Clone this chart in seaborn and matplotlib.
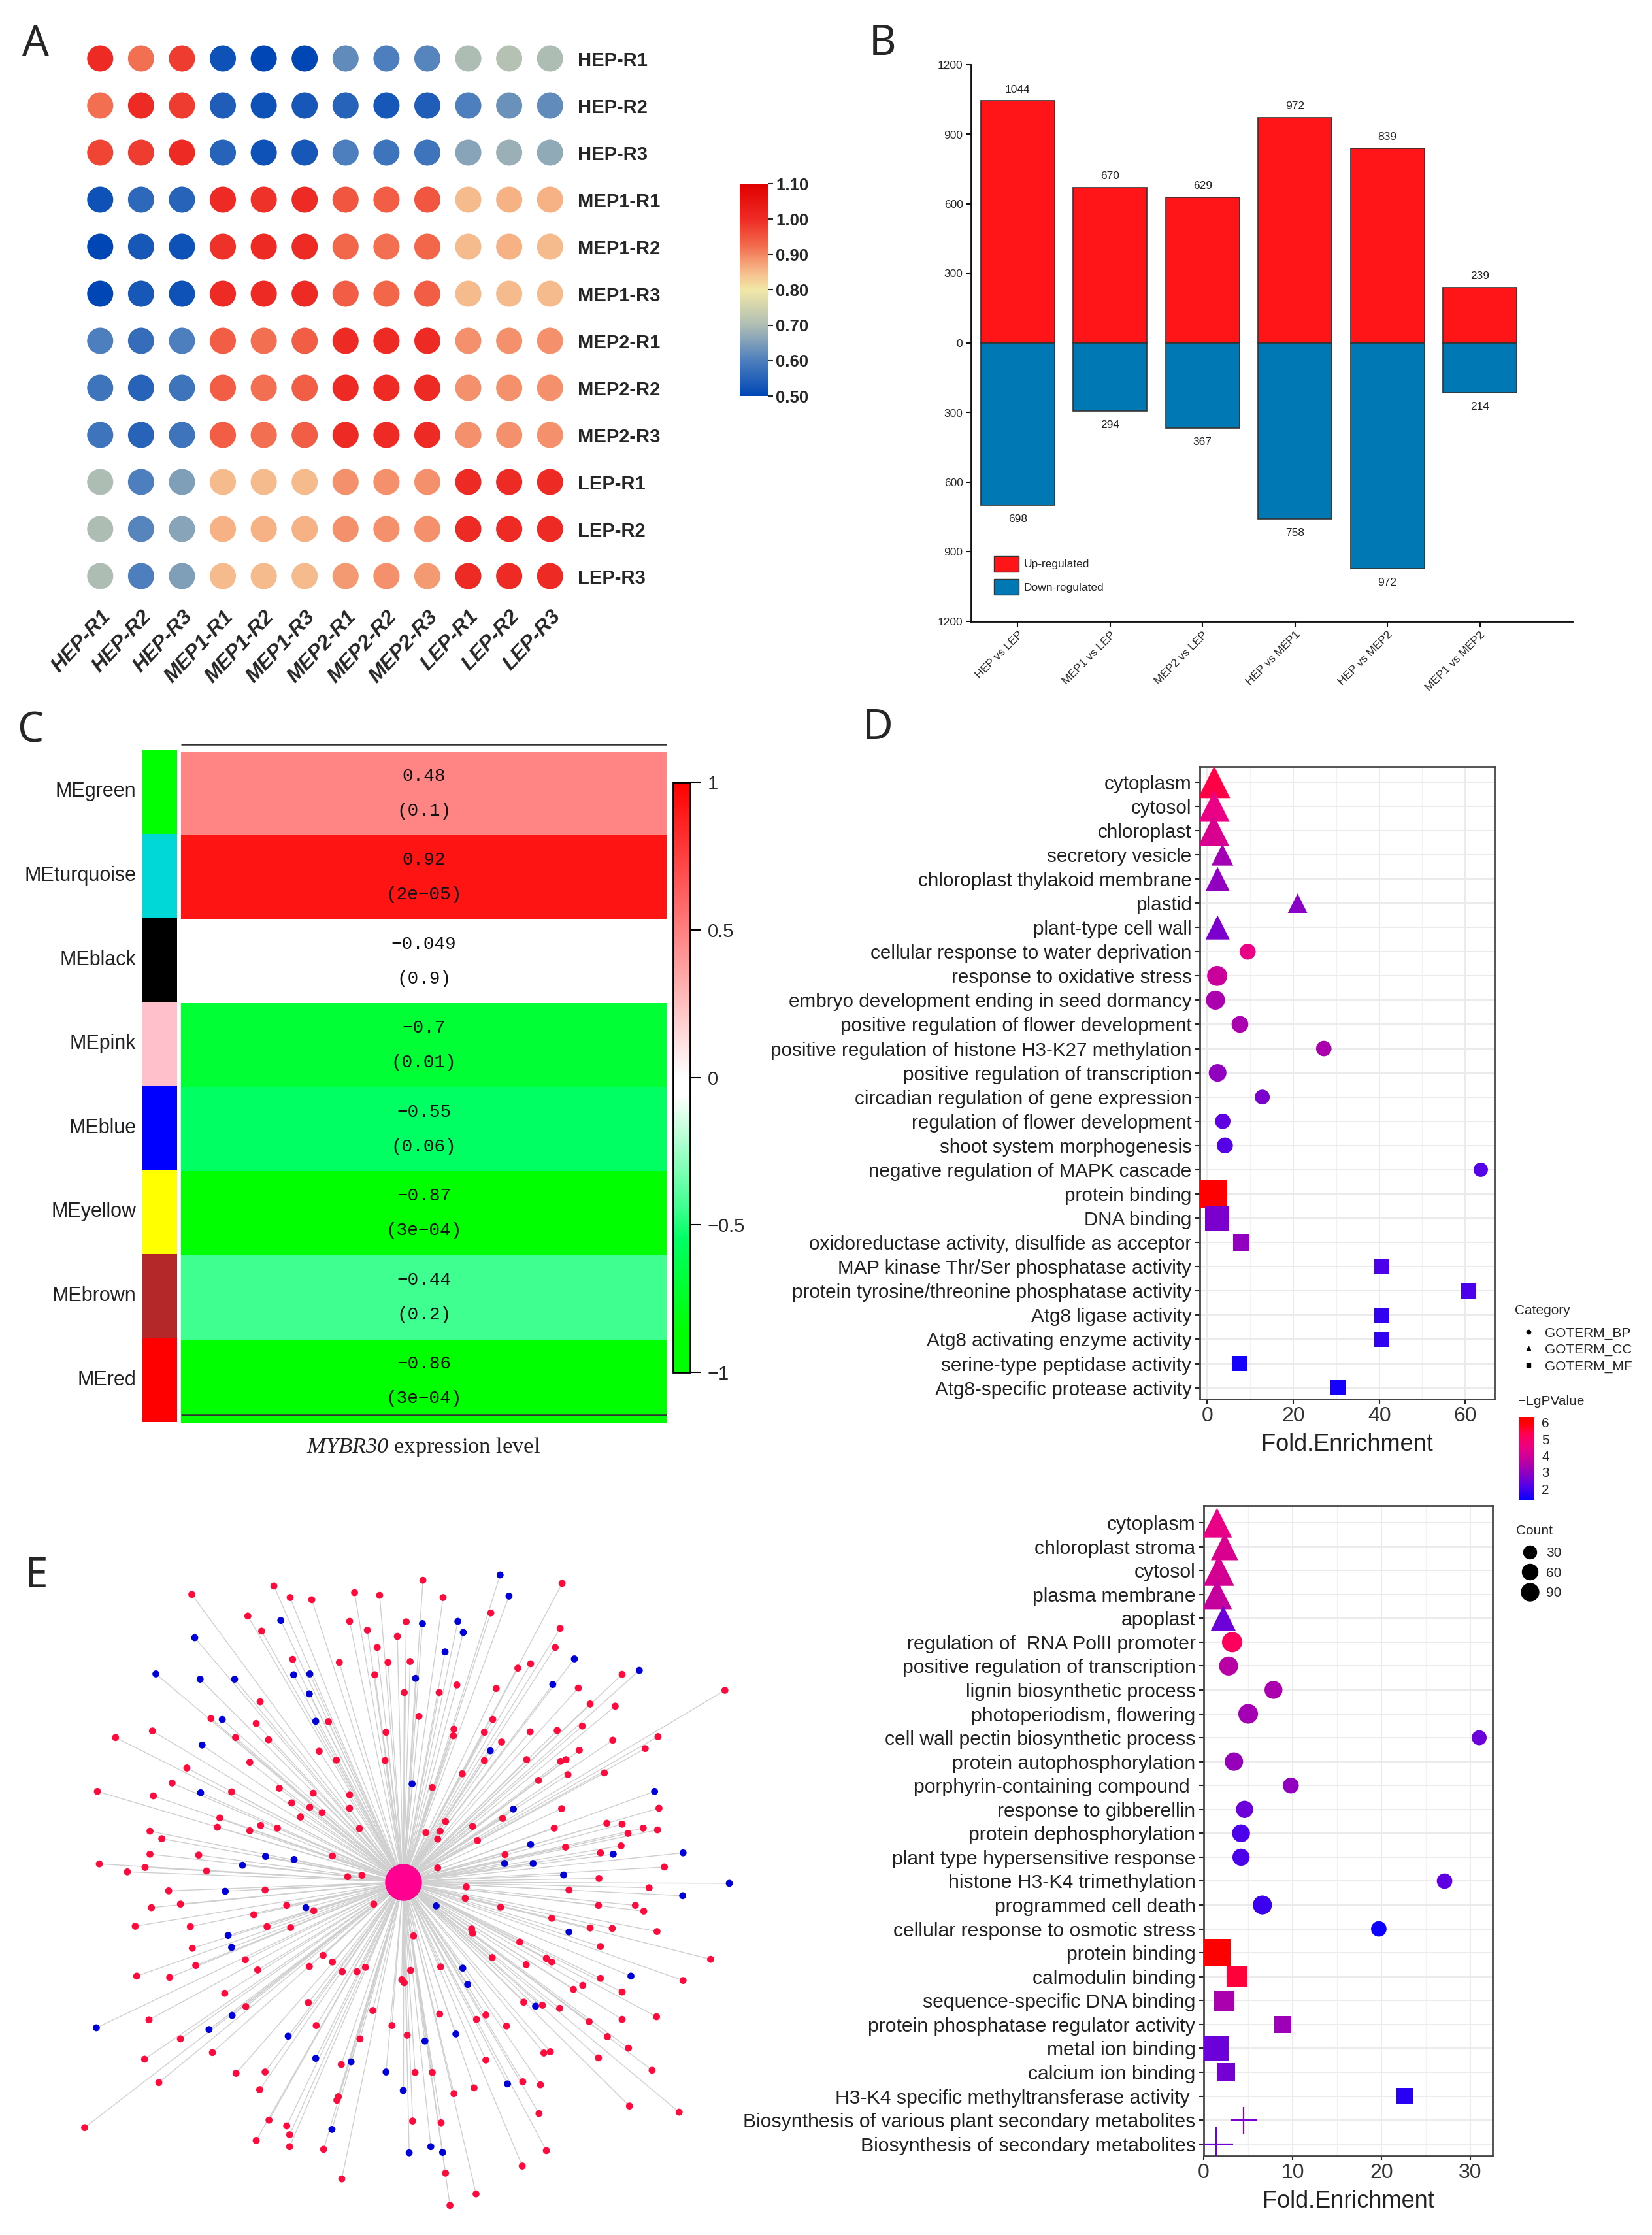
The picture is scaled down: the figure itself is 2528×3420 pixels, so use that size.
import numpy as np
import pandas as pd
import matplotlib
matplotlib.use('Agg')
import matplotlib.pyplot as plt
from matplotlib.colors import LinearSegmentedColormap, ListedColormap, Normalize
from matplotlib.cm import ScalarMappable
from matplotlib.lines import Line2D
from matplotlib.patches import Patch
import seaborn as sns

W, H = 2528, 3420

# ---------- panel A
samples = ['HEP-R1', 'HEP-R2', 'HEP-R3', 'MEP1-R1', 'MEP1-R2', 'MEP1-R3',
           'MEP2-R1', 'MEP2-R2', 'MEP2-R3', 'LEP-R1', 'LEP-R2', 'LEP-R3']
corr_matrix = [
    [1.00, .92, .98, .52, .50, .50, .62, .60, .61, .70, .71, .70],
    [.92, 1.00, .98, .54, .52, .53, .55, .53, .54, .60, .63, .62],
    [.97, .98, 1.00, .55, .52, .53, .60, .58, .58, .66, .68, .67],
    [.52, .56, .55, 1.00, .99, 1.00, .95, .94, .95, .85, .86, .86],
    [.50, .53, .52, .99, 1.00, 1.00, .93, .92, .93, .85, .86, .85],
    [.50, .53, .52, 1.00, 1.00, 1.00, .94, .93, .94, .85, .85, .85],
    [.60, .57, .60, .94, .92, .94, 1.00, 1.00, 1.00, .89, .89, .89],
    [.58, .55, .58, .94, .92, .94, 1.00, 1.00, 1.00, .89, .89, .89],
    [.58, .55, .58, .94, .92, .94, 1.00, 1.00, 1.00, .89, .89, .89],
    [.70, .60, .65, .85, .85, .85, .89, .89, .89, 1.00, 1.00, 1.00],
    [.70, .61, .66, .86, .86, .86, .89, .89, .89, 1.00, 1.00, 1.00],
    [.70, .60, .65, .85, .85, .85, .88, .89, .88, 1.00, 1.00, 1.00],
]

# ---------- panel B
comparisons = ['HEP vs LEP', 'MEP1 vs LEP', 'MEP2 vs LEP', 'HEP vs MEP1', 'HEP vs MEP2', 'MEP1 vs MEP2']
up_counts = [1044, 670, 629, 972, 839, 239]
down_counts = [698, 294, 367, 758, 972, 214]

# ---------- panel C
module_names = ['MEgreen', 'MEturquoise', 'MEblack', 'MEpink', 'MEblue', 'MEyellow', 'MEbrown', 'MEred']
module_colors = ['#00FF00', '#00D8D8', '#000000', '#FFC0CB', '#0000FF', '#FFFF00', '#B5282A', '#FF0000']
module_corr = [0.48, 0.92, -0.049, -0.7, -0.55, -0.87, -0.44, -0.86]
module_corr_txt = ['0.48', '0.92', '\u22120.049', '\u22120.7', '\u22120.55', '\u22120.87', '\u22120.44', '\u22120.86']
module_p_txt = ['(0.1)', '(2e\u221205)', '(0.9)', '(0.01)', '(0.06)', '(3e\u221204)', '(0.2)', '(3e\u221204)']

# ---------- panel D
d_terms = ['cytoplasm', 'cytosol', 'chloroplast', 'secretory vesicle', 'chloroplast thylakoid membrane',
           'plastid', 'plant-type cell wall', 'cellular response to water deprivation',
           'response to oxidative stress', 'embryo development ending in seed dormancy',
           'positive regulation of flower development', 'positive regulation of histone H3-K27 methylation',
           'positive regulation of transcription', 'circadian regulation of gene expression',
           'regulation of flower development', 'shoot system morphogenesis',
           'negative regulation of MAPK cascade', 'protein binding', 'DNA binding',
           'oxidoreductase activity, disulfide as acceptor', 'MAP kinase Thr/Ser phosphatase activity',
           'protein tyrosine/threonine phosphatase activity', 'Atg8 ligase activity',
           'Atg8 activating enzyme activity', 'serine-type peptidase activity', 'Atg8-specific protease activity']
d_cat = ['CC'] * 7 + ['BP'] * 10 + ['MF'] * 9
d_fold = [1.6, 1.6, 1.5, 3.5, 2.4, 21, 2.4, 9.4, 2.3, 1.9, 7.6, 27.1, 2.4, 12.8, 3.6, 4.1, 63.6,
          1.5, 2.3, 7.9, 40.6, 60.8, 40.6, 40.6, 7.5, 30.5]
d_lgp = [5.4, 4.5, 4.2, 3.3, 3.0, 2.9, 2.7, 4.5, 3.9, 3.4, 3.4, 3.4, 3.0, 2.7, 2.3, 2.2, 2.2,
         6.2, 2.7, 3.0, 2.1, 2.1, 1.8, 1.8, 1.5, 1.5]
d_count = [125, 117, 117, 58, 71, 46, 71, 31, 49, 44, 34, 29, 38, 27, 29, 31, 25,
           92, 74, 34, 27, 29, 27, 27, 29, 29]

# ---------- panel E, enrichment
e_terms = ['cytoplasm', 'chloroplast stroma', 'cytosol', 'plasma membrane', 'apoplast',
           'regulation of  RNA PolII promoter', 'positive regulation of transcription',
           'lignin biosynthetic process', 'photoperiodism, flowering', 'cell wall pectin biosynthetic process',
           'protein autophosphorylation', 'porphyrin-containing compound ', 'response to gibberellin',
           'protein dephosphorylation', 'plant type hypersensitive response', 'histone H3-K4 trimethylation',
           'programmed cell death', 'cellular response to osmotic stress', 'protein binding',
           'calmodulin binding', 'sequence-specific DNA binding', 'protein phosphatase regulator activity',
           'metal ion binding', 'calcium ion binding', 'H3-K4 specific methyltransferase activity ',
           'Biosynthesis of various plant secondary metabolites', 'Biosynthesis of secondary metabolites']
e_cat = ['CC'] * 5 + ['BP'] * 13 + ['MF'] * 7 + ['KEGG'] * 2
e_fold = [1.5, 2.35, 1.7, 1.5, 2.2, 3.2, 2.8, 7.85, 5.0, 31, 3.4, 9.8, 4.6, 4.2, 4.2, 27.1, 6.6, 19.7,
          1.5, 3.75, 2.35, 8.9, 1.4, 2.5, 22.6, 4.5, 1.4]
e_lgp = [4.5, 4.2, 4.1, 3.8, 2.5, 5.2, 3.6, 3.4, 3.3, 2.5, 3.1, 3.0, 2.5, 2.1, 2.1, 2.3, 1.9, 1.4,
         6.2, 5.5, 3.4, 3.2, 2.5, 2.6, 1.7, 2.7, 2.5]
e_count = [107, 91, 116, 107, 76, 50, 44, 39, 47, 27, 41, 31, 36, 39, 36, 29, 44, 29,
           91, 50, 50, 34, 76, 39, 34, 87, 145]

# ---------- panel E, network (layout positions)
hub_pos = (820, 769)
up_nodes = [(860,86),(1143,93),(557,99),(390,118),(721,114),(772,120),(590,125),(634,130),(901,125),(998,160),
    (504,167),(711,179),(826,180),(1139,195),(532,201),(747,199),(808,213),(767,238),(1129,238),(595,265),
    (690,272),(789,272),(834,270),(1079,275),(1053,285),(762,300),(1265,299),(929,323),(1009,331),(1176,330),
    (822,340),(893,340),(529,361),(1200,366),(1251,371),(1474,335),(852,394),(429,399),(521,410),(668,406),
    (1002,401),(1184,416),(785,430),(923,423),(922,438),(985,430),(1078,429),(1133,426),(310,427),(235,442),
    (479,442),(546,447),(1338,440),(1246,448),(1020,452),(649,473),(1178,471),(1312,467),(783,494),(684,493),
    (985,494),(1071,492),(1140,496),(1151,492),(508,498),(380,511),(940,524),(1229,522),(1155,526),(1095,539),
    (350,545),(568,557),(879,555),(198,564),(471,565),(312,574),(637,568),(711,572),(593,590),(630,600),
    (711,602),(1142,603),(1340,602),(655,612),(611,622),(447,624),(1022,625),(906,632),(442,645),(530,641),
    (564,647),(508,653),(731,648),(305,654),(961,643),(1127,647),(1234,636),(1265,638),(1308,647),(1337,651),
    (866,657),(895,654),(1277,659),(329,671),(890,672),(971,675),(1263,687),(1150,690),(305,706),(404,708),
    (676,710),(1221,703),(1027,707),(202,728),(295,736),(259,746),(420,744),(890,737),(1351,735),(736,754),
    (707,757),(1218,761),(948,780),(1320,782),(343,789),(539,787),(1157,787),(946,806),(367,819),(308,827),
    (583,822),(760,819),(638,834),(1018,826),(1217,822),(1292,822),(1309,835),(516,843),(1122,851),(275,869),
    (387,870),(543,870),(591,872),(959,875),(961,885),(1200,873),(1245,874),(1336,881),(841,891),(391,919),
    (1057,905),(1221,915),(657,935),(499,945),(676,950),(1001,940),(1111,942),(1122,950),(1445,944),(398,958),
    (629,960),(524,968),(696,972),(726,972),(743,962),(835,969),(896,961),(1070,956),(278,982),(345,985),
    (817,990),(822,997),(1221,987),(1389,992),(1185,1003),(1166,1012),(1265,1018),(457,1021),(627,1042),(500,1051),
    (1065,1041),(1103,1048),(1138,1055),(758,1060),(894,1068),(988,1070),(969,1080),(1335,1074),(303,1081),(1198,1085),
    (1265,1080),(797,1094),(643,1094),(1030,1095),(828,1116),(1235,1119),(367,1124),(732,1124),(1278,1145),(432,1155),
    (1106,1156),(1119,1153),(294,1170),(988,1172),(1217,1167),(694,1182),(480,1202),(539,1199),(844,1200),(879,1200),
    (1326,1195),(323,1223),(1063,1221),(1099,1228),(528,1239),(964,1235),(923,1248),(688,1255),(685,1263),(1280,1276),
    (1096,1293),(1381,1290),(172,1325),(547,1308),(839,1310),(897,1314),(583,1321),(589,1341),(521,1354),(589,1368),
    (658,1374),(1111,1377),(1062,1412),(695,1441),(906,1428),(968,1475),(915,1501)]
down_nodes = [(1017,74),(1035,122),(571,177),(396,216),(859,184),(931,179),(942,204),(905,248),(1168,264),(1300,290),
    (317,298),(407,310),(477,310),(597,300),(630,298),(845,308),(1124,322),(629,343),(642,405),(452,401),
    (411,459),(997,472),(838,547),(408,567),(1331,564),(1044,604),(1079,684),(1247,706),(1389,703),(540,711),
    (598,718),(493,731),(1026,727),(1084,727),(1146,753),(1483,772),(458,790),(1388,800),(622,827),(887,823),
    (1157,882),(464,890),(471,917),(941,964),(951,1001),(1283,982),(1089,1050),(472,1071),(196,1099),(425,1103),
    (586,1118),(927,1113),(864,1129),(642,1168),(714,1176),(785,1199),(820,1241),(1032,1226),(675,1329),(832,1382),
    (876,1368),(900,1381)]

sns.set_style('white')
plt.rcParams['font.family'] = ['Liberation Sans', 'DejaVu Sans']
plt.rcParams['mathtext.fontset'] = 'custom'
plt.rcParams['mathtext.it'] = 'Liberation Serif:italic'
plt.rcParams['mathtext.rm'] = 'Liberation Serif:italic'

fig = plt.figure(figsize=(W / 100, H / 100), dpi=100)


def px_axes(left, top, right, bottom):
    return fig.add_axes([left / W, 1 - bottom / H, (right - left) / W, (bottom - top) / H])


for letter, lx, ly in [('A', 54, 68), ('B', 1351, 67), ('C', 46, 1118), ('D', 1343, 1114), ('E', 56, 2412)]:
    fig.text(lx / W, 1 - ly / H, letter, fontsize=46, family='Noto Sans', ha='center', va='center')

# ---------- A: dot correlation matrix
corr_cmap = LinearSegmentedColormap.from_list('corr', [
    (0.0, '#0047B5'), (1 / 6, '#4E7FBD'), (2 / 6, '#AEBDB4'), (3 / 6, '#F2E8A8'),
    (0.35 / 0.6, '#F6BC8C'), (0.43 / 0.6, '#F2664A'), (5 / 6, '#EE2B25'), (1.0, '#E00000')])
corr_df = pd.DataFrame(corr_matrix, index=samples, columns=samples).stack().reset_index()
corr_df.columns = ['row', 'col', 'value']
ax = px_axes(122, 53.5, 873, 917.5)
sns.scatterplot(data=corr_df, x='col', y='row', hue='value', palette=corr_cmap, hue_norm=(0.5, 1.1),
                s=830, linewidth=0, legend=False, ax=ax)
ax.set_xlim(-0.5, 11.5)
ax.set_ylim(11.5, -0.5)
ax.set_xlabel('')
ax.set_ylabel('')
ax.yaxis.tick_right()
ax.tick_params(axis='y', length=0, labelsize=21, pad=8)
ax.tick_params(axis='x', length=0, labelsize=23, pad=8)
for lab in ax.get_yticklabels():
    lab.set_fontweight('bold')
plt.setp(ax.get_xticklabels(), rotation=47, ha='right', rotation_mode='anchor', fontweight='bold', style='italic')
sns.despine(ax=ax, left=True, bottom=True)

cax = px_axes(1132, 281, 1176, 606)
cb = fig.colorbar(ScalarMappable(Normalize(0.5, 1.1), corr_cmap), cax=cax, ticks=np.arange(0.5, 1.11, 0.1))
cb.ax.set_yticklabels(['%.2f' % t for t in np.arange(0.5, 1.11, 0.1)], fontsize=18.5, fontweight='bold')
cb.outline.set_visible(False)
cb.ax.tick_params(length=5, width=1.5, pad=3, right=True)

# ---------- B: up/down bars
ax = px_axes(1486, 99, 2406, 951)
sns.barplot(x=comparisons, y=up_counts, color='#FF1418', saturation=1, width=0.8,
            edgecolor='#333333', linewidth=1.2, ax=ax)
sns.barplot(x=comparisons, y=[-v for v in down_counts], color='#0078B4', saturation=1, width=0.8,
            edgecolor='#333333', linewidth=1.2, ax=ax)
ax.bar_label(ax.containers[0], labels=[str(v) for v in up_counts], padding=7, fontsize=12.5, color='#222222')
ax.bar_label(ax.containers[1], labels=[str(v) for v in down_counts], padding=10, fontsize=12.5, color='#222222')
ax.set_xlim(-0.504, 6.0)
ax.set_ylim(-1200, 1200)
ax.set_yticks(np.arange(-1200, 1201, 300))
ax.set_yticklabels([str(abs(t)) for t in np.arange(-1200, 1201, 300)])
ax.tick_params(axis='both', left=True, bottom=True, length=6, width=1.5, labelsize=12.5, pad=3, color='#111111')
plt.setp(ax.get_xticklabels(), rotation=45, ha='right', rotation_mode='anchor')
sns.despine(ax=ax)
for side in ['left', 'bottom']:
    ax.spines[side].set_linewidth(2)
    ax.spines[side].set_color('#111111')
ax.legend(handles=[Patch(facecolor='#FF1418', edgecolor='#333333', label='Up-regulated'),
                   Patch(facecolor='#0078B4', edgecolor='#333333', label='Down-regulated')],
          loc='lower left', bbox_to_anchor=((1521 - 1486) / 920, (951 - 910) / 852), borderpad=0, borderaxespad=0,
          frameon=False, fontsize=12.5, handlelength=2.2, handleheight=1.75, handletextpad=0.4, labelspacing=0.65)

# ---------- C: module trait heatmap
green_white_red = LinearSegmentedColormap.from_list('gwr', [
    (0.0, '#00FF00'), (0.065, '#00FF00'), (0.225, '#00FF64'), (0.28, '#40FF90'), (0.47, '#FFFFFF'),
    (0.5, '#FFFFFF'), (1.0, '#FF0000')])
annot = np.array([[c + '\n' + p] for c, p in zip(module_corr_txt, module_p_txt)])
ax = px_axes(277, 1150, 1020, 2178)
cax = px_axes(1030, 1197, 1056, 2100)
sns.heatmap(np.array(module_corr).reshape(-1, 1), annot=annot, fmt='', cmap=green_white_red, vmin=-1, vmax=1,
            annot_kws={'color': '#111111', 'family': 'Liberation Mono', 'fontsize': 20, 'linespacing': 2.35},
            xticklabels=False, yticklabels=False, cbar_ax=cax, ax=ax)
cb = ax.collections[0].colorbar
cb.set_ticks([-1, -0.5, 0, 0.5, 1])
cb.set_ticklabels(['\u22121', '\u22120.5', '0', '0.5', '1'])
cb.ax.tick_params(right=True, length=12, width=1.5, labelsize=21, pad=7, color='black')
cb.outline.set_visible(True)
cb.outline.set_linewidth(2)
cb.outline.set_edgecolor('black')
ax.hlines([-0.085, 7.9], 0, 1, color='#333333', linewidth=1.8, clip_on=False)
ax.set_xlabel(r'$\mathit{MYBR30}$ expression level', family='Liberation Serif', fontsize=24.8, labelpad=14, color='#222222')

ax = px_axes(218, 1147, 271, 2176)
sns.heatmap(np.arange(8).reshape(-1, 1), cmap=ListedColormap(module_colors), cbar=False,
            xticklabels=False, yticklabels=module_names, ax=ax)
ax.tick_params(axis='y', left=False, labelsize=22, pad=3.5, rotation=0, labelcolor='#222222')


# ---------- D / E: GO bubble plots
lgp_cmap = LinearSegmentedColormap.from_list('lgp', [
    (0.0, '#0800FF'), (0.18, '#5A00E4'), (0.33, '#9000C0'), (0.48, '#C000A0'),
    (0.63, '#E80085'), (0.79, '#FF0058'), (0.94, '#FF0000'), (1.0, '#FF0000')])
go_markers = {'BP': 'o', 'CC': '^', 'MF': 's'}
size_norm = (10, 150)
size_range = (100, 1500)


def bubble_panel(box, terms, cats, fold, lgp, count, xlim, ylim, xticks, xminor, label_size):
    ax = px_axes(*box)
    df = pd.DataFrame({'term': terms, 'Category': cats, 'fold': fold, 'lgp': lgp, 'Count': count})
    go = df[df['Category'] != 'KEGG']
    kegg = df[df['Category'] == 'KEGG']
    sns.scatterplot(data=go, x='fold', y='term', hue='lgp', palette=lgp_cmap, hue_norm=(1.35, 6.3),
                    size='Count', sizes=size_range, size_norm=size_norm, style='Category', markers=go_markers,
                    linewidth=0, legend=False, zorder=3, ax=ax)
    if len(kegg):
        sns.scatterplot(data=kegg, x='fold', y='term', hue='lgp', palette=lgp_cmap, hue_norm=(1.35, 6.3),
                        size='Count', sizes=size_range, size_norm=size_norm, marker='+',
                        linewidth=1.6, legend=False, zorder=3, ax=ax)
    ax.set_xlim(*xlim)
    ax.set_ylim(*ylim)
    ax.set_xticks(xticks)
    ax.set_xticks(xminor, minor=True)
    ax.grid(True, which='major', color='#EBEBEB', linewidth=1.5)
    ax.grid(True, which='minor', axis='x', color='#F2F2F2', linewidth=1)
    ax.set_axisbelow(True)
    ax.set_xlabel('Fold.Enrichment', fontsize=26, labelpad=8, color='#222222')
    ax.set_ylabel('')
    ax.tick_params(axis='x', which='major', bottom=True, length=5, width=1.5, labelsize=23, pad=3, labelcolor='#333333')
    ax.tick_params(axis='x', which='minor', bottom=False)
    ax.tick_params(axis='y', left=True, length=5, width=1.5, labelsize=label_size, pad=4, labelcolor='#222222')
    for side in ax.spines.values():
        side.set_visible(True)
        side.set_color('#444444')
        side.set_linewidth(2)
    return ax


bubble_panel((1836, 1173, 2287, 2141), d_terms, d_cat, d_fold, d_lgp, d_count, (-1.74, 66.8), (25.47, -0.64),
             [0, 20, 40, 60], [10, 30, 50], 21.3)
bubble_panel((1842, 2304, 2284, 3299), e_terms, e_cat, e_fold, e_lgp, e_count, (0, 32.5), (26.5, -0.71),
             [0, 10, 20, 30], [5, 15, 25], 21.7)

# legends at the right of the GO plots
leg = fig.legend(handles=[Line2D([], [], marker=m, color='black', linestyle='', markersize=4.5) for m in go_markers.values()],
                 labels=['GOTERM_BP', 'GOTERM_CC', 'GOTERM_MF'], title='Category', loc='upper left',
                 bbox_to_anchor=(2318 / W, 1 - 1996 / H), frameon=False, fontsize=15, title_fontsize=15,
                 alignment='left', labelspacing=0.3, handletextpad=0.2, borderpad=0, borderaxespad=0)
leg._legend_box.sep = 11
fig.text(2323 / W, 1 - 2145 / H, '\u2212LgPValue', fontsize=15, va='center')
cax = px_axes(2324, 2169, 2348, 2295)
cb = fig.colorbar(ScalarMappable(Normalize(1.35, 6.3), lgp_cmap), cax=cax, ticks=[2, 3, 4, 5, 6])
cb.outline.set_visible(False)
cb.ax.tick_params(right=False, length=0, labelsize=15, pad=8)
leg = fig.legend(handles=[Line2D([], [], marker='o', color='black', linestyle='', markersize=ms) for ms in [14.4, 17.3, 19.4]],
                 labels=['30', '60', '90'], title='Count', loc='upper left',
                 bbox_to_anchor=(2320 / W, 1 - 2333 / H), frameon=False, fontsize=15, title_fontsize=15,
                 alignment='left', labelspacing=0.55, handletextpad=0.2, borderpad=0, borderaxespad=0)
leg._legend_box.sep = 11

# ---------- E: co-expression network
ax = px_axes(0, 2360, 1180, 3420)
ax.set_axis_off()
for nx, ny in up_nodes + down_nodes:
    ax.plot([hub_pos[0], nx], [hub_pos[1], ny], color='#CFCFCF', linewidth=1.0, zorder=1)
net_df = pd.DataFrame(up_nodes + down_nodes, columns=['x', 'y'])
net_df['group'] = ['up'] * len(up_nodes) + ['down'] * len(down_nodes)
sns.scatterplot(data=net_df, x='x', y='y', hue='group', palette={'up': '#FF0A3C', 'down': '#0000D8'},
                s=60, linewidth=0, legend=False, zorder=2, ax=ax)
sns.scatterplot(x=[hub_pos[0]], y=[hub_pos[1]], color='#FF0090', s=1650, linewidth=0, zorder=3, ax=ax)
ax.set_xlim(0, 1568)
ax.set_ylim(1568, 0)

fig.savefig('out.png', dpi=100)
